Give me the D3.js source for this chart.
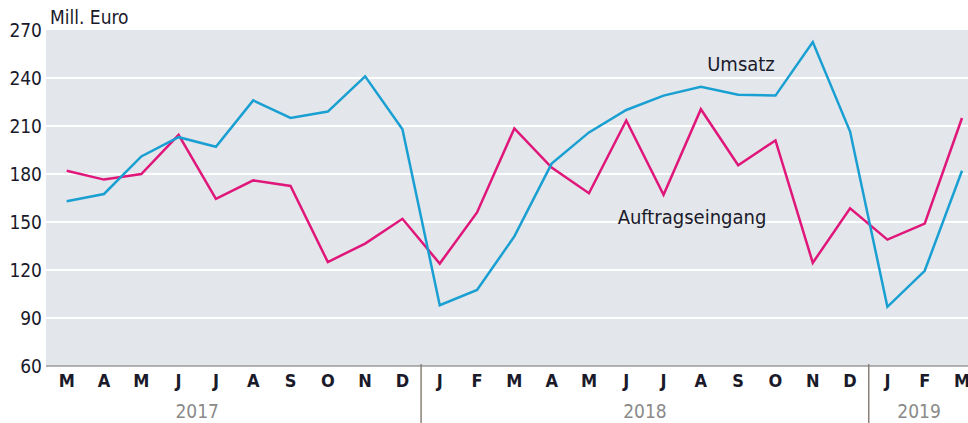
<!DOCTYPE html>
<html lang="de">
<head>
    <meta charset="UTF-8">
    <title>Umsatz und Auftragseingang</title>
    <style>
        body { margin: 0; background: #fff; }
        text { font-family: "DejaVu Sans Condensed", "Liberation Sans Narrow", sans-serif; fill: #1a1a2a; }
        .y-tick { font-size: 19px; }
        .month { font-size: 18px; font-weight: bold; }
        .year { font-size: 19px; fill: #8a8a8a; }
        .unit { font-size: 19px; }
        .series-label { font-size: 20px; }
    </style>
</head>
<body>
    <svg width="968" height="423"></svg>
    <script src="https://d3js.org/d3.v7.min.js"></script>
    <script>

        // Monthly values, Mar 2017 - Mar 2019 (Mill. Euro)
        const months = ['M', 'A', 'M', 'J', 'J', 'A', 'S', 'O', 'N', 'D',
                        'J', 'F', 'M', 'A', 'M', 'J', 'J', 'A', 'S', 'O', 'N', 'D',
                        'J', 'F', 'M'];

        const umsatz = [163, 167.5, 191, 203, 197, 226, 215, 219, 241, 208,
                        98, 107.5, 141, 186.5, 206, 220, 229, 234.5, 229.5, 229, 262.5, 206.5,
                        97, 119.5, 182];

        const auftragseingang = [182, 176.5, 180, 204.5, 164.5, 176, 172.5, 125, 136.5, 152,
                                 124, 156, 208.5, 184, 168, 213.5, 167, 220.5, 185.5, 201, 124.5, 158.5,
                                 139, 149, 215];

        const yTicks = [60, 90, 120, 150, 180, 210, 240, 270];

        // year label position in month-index units, and separators (between D and J)
        const years = ['2017', '2018', '2019'];
        const yearPos = [3.5, 15.5, 22.85];
        const separators = [9.5, 21.5];

        const svg = d3.select('svg');
        const width = +svg.attr('width');
        const height = +svg.attr('height');

        const plotLeft = 46, plotRight = 968, plotTop = 30, plotBottom = 366;

        const x = d3.scaleLinear().domain([0, months.length - 1]).range([66.7, 962]);
        const y = d3.scaleLinear().domain([60, 270]).range([plotBottom, plotTop]);

        // plot background
        svg.append('rect')
            .attr('x', plotLeft)
            .attr('y', plotTop)
            .attr('width', plotRight - plotLeft)
            .attr('height', plotBottom - plotTop)
            .attr('fill', '#e3e7eb');

        // gridlines
        svg.append('g')
            .selectAll('line')
            .data(yTicks.filter(d => d > 60 && d < 270))
            .enter()
            .append('line')
            .attr('x1', plotLeft)
            .attr('x2', plotRight)
            .attr('y1', d => y(d))
            .attr('y2', d => y(d))
            .attr('stroke', '#fff')
            .attr('stroke-width', 2);

        // y tick labels
        svg.append('g')
            .selectAll('text')
            .data(yTicks)
            .enter()
            .append('text')
            .attr('class', 'y-tick')
            .attr('x', 42)
            .attr('y', d => y(d))
            .attr('dy', '0.36em')
            .attr('text-anchor', 'end')
            .text(d => d);

        svg.append('text')
            .attr('class', 'unit')
            .attr('x', 50)
            .attr('y', 24)
            .text('Mill. Euro');

        // baseline
        svg.append('line')
            .attr('x1', plotLeft)
            .attr('x2', plotRight)
            .attr('y1', plotBottom)
            .attr('y2', plotBottom)
            .attr('stroke', '#9a9a9a')
            .attr('stroke-width', 1.5);

        // year separators
        svg.append('g')
            .selectAll('line')
            .data(separators)
            .enter()
            .append('line')
            .attr('x1', d => x(d))
            .attr('x2', d => x(d))
            .attr('y1', plotBottom - 2)
            .attr('y2', height)
            .attr('stroke', '#8a8078')
            .attr('stroke-width', 1.5);

        // month labels
        svg.append('g')
            .selectAll('text')
            .data(months)
            .enter()
            .append('text')
            .attr('class', 'month')
            .attr('x', (d, i) => x(i))
            .attr('y', 381)
            .attr('dy', '0.36em')
            .attr('text-anchor', 'middle')
            .text(d => d);

        // year labels
        svg.append('g')
            .selectAll('text')
            .data(years)
            .enter()
            .append('text')
            .attr('class', 'year')
            .attr('x', (d, i) => x(yearPos[i]))
            .attr('y', 418)
            .attr('text-anchor', 'middle')
            .text(d => d);

        const line = d3.line()
            .x((d, i) => x(i))
            .y(d => y(d));

        svg.append('path')
            .datum(auftragseingang)
            .attr('d', line)
            .attr('fill', 'none')
            .attr('stroke', '#e0177a')
            .attr('stroke-width', 2.5)
            .attr('stroke-linejoin', 'miter');

        svg.append('path')
            .datum(umsatz)
            .attr('d', line)
            .attr('fill', 'none')
            .attr('stroke', '#1a9fd2')
            .attr('stroke-width', 2.5)
            .attr('stroke-linejoin', 'miter');

        // series labels
        svg.append('text')
            .attr('class', 'series-label')
            .attr('x', 741)
            .attr('y', 71)
            .attr('text-anchor', 'middle')
            .text('Umsatz');

        svg.append('text')
            .attr('class', 'series-label')
            .attr('x', 692)
            .attr('y', 224)
            .attr('text-anchor', 'middle')
            .text('Auftragseingang');

    </script>
</body>
</html>
